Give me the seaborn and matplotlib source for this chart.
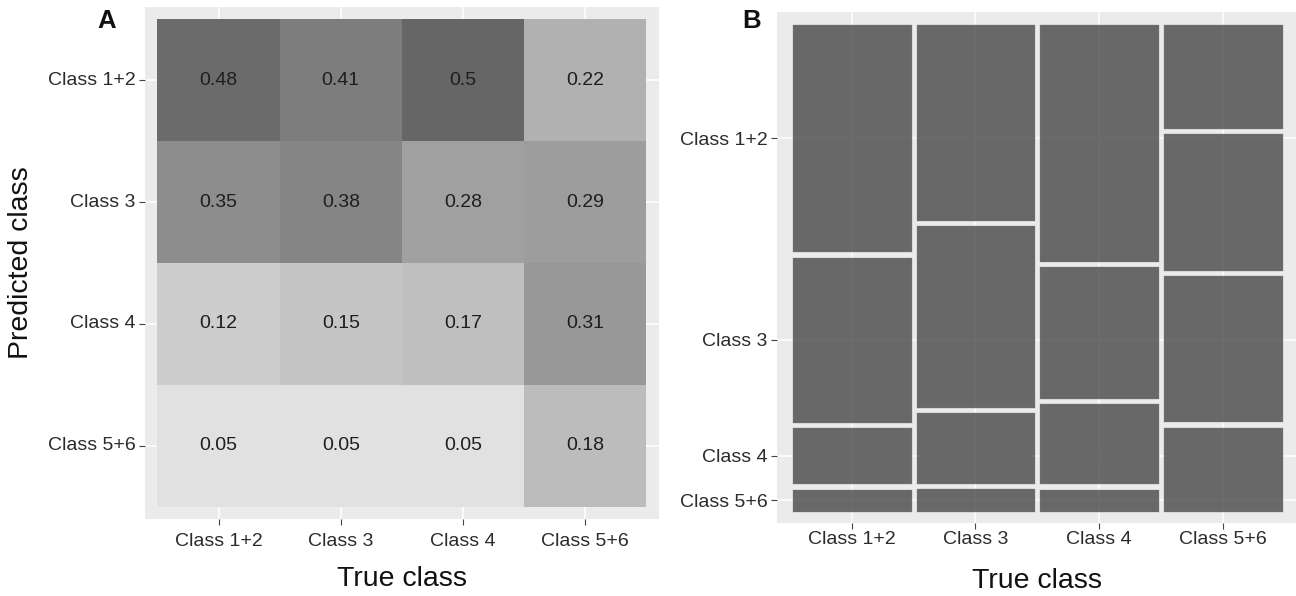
import numpy as np
import pandas as pd
import matplotlib
matplotlib.use("Agg")
import matplotlib.pyplot as plt
from matplotlib.colors import ListedColormap
import seaborn as sns

# ---- data -----------------------------------------------------------------
classes = ["Class 1+2", "Class 3", "Class 4", "Class 5+6"]

# share of each true class (columns) that was predicted as a given class (rows)
pred_class12 = [0.48, 0.41, 0.50, 0.22]
pred_class3 = [0.35, 0.38, 0.28, 0.29]
pred_class4 = [0.12, 0.15, 0.17, 0.31]
pred_class56 = [0.05, 0.05, 0.05, 0.18]

# relative size of each true class (mosaic column widths)
true_class_share = [0.251, 0.248, 0.252, 0.250]

# ---- style ----------------------------------------------------------------
sns.set_style("white")
plt.rcParams["font.family"] = ["Liberation Sans", "DejaVu Sans"]

PANEL_BG = "#ebebeb"
TEXT = "#2b2b2b"
W, H = 1296, 596

fig = plt.figure(figsize=(W / 100, H / 100), dpi=100)


def px_axes(left, top, right, bottom):
    return fig.add_axes([left / W, 1 - bottom / H, (right - left) / W, (bottom - top) / H])


def lstar(g):
    c = g / 255.0
    lin = ((c + 0.055) / 1.055) ** 2.4
    return 116 * lin ** (1 / 3) - 16


def from_lstar(L):
    y = ((L + 16) / 116) ** 3
    return np.clip(1.055 * y ** (1 / 2.4) - 0.055, 0, 1)


# grey gradient interpolated in lightness, light for low values, dark for high
levels = from_lstar(np.linspace(lstar(225), lstar(102), 256))
grey_cmap = ListedColormap(np.column_stack([levels, levels, levels]))


def style_axes(ax, xpad):
    ax.set_facecolor(PANEL_BG)
    ax.set_axisbelow(True)
    ax.grid(True, color="white", linewidth=1.1)
    for s in ax.spines.values():
        s.set_visible(False)
    ax.tick_params(axis="both", length=4, width=0.8, color="#444444",
                   labelsize=14, labelcolor=TEXT, pad=3,
                   bottom=True, left=True)
    ax.tick_params(axis="x", pad=xpad)


# ---- panel A: confusion heatmap -------------------------------------------
conf = pd.DataFrame([pred_class12, pred_class3, pred_class4, pred_class56],
                    index=classes, columns=classes)
labels = conf.map(lambda v: f"{v:g}").values

axA = px_axes(145.2, 7.3, 658.6, 518.7)
sns.heatmap(conf, ax=axA, cmap=grey_cmap, vmin=conf.values.min(),
            vmax=conf.values.max(), cbar=False, annot=labels, fmt="",
            annot_kws=dict(fontsize=14, color="#1e1e1e"))
axA.set_xlim(-0.1, 4.1)
axA.set_ylim(4.1, -0.1)
style_axes(axA, xpad=6)
axA.set_yticklabels(classes, rotation=0)
axA.set_xticklabels(classes, rotation=0)
axA.set_xlabel("True class", fontsize=20.5, color="#111111", labelpad=12)
axA.set_ylabel("Predicted class", fontsize=20.5, color="#111111", labelpad=10)

# ---- panel B: mosaic plot -------------------------------------------------
gap = 0.0087
axB = px_axes(777.3, 11.7, 1297.0, 523.0)

shares = np.array(true_class_share) / np.sum(true_class_share)
widths = shares * (1 - gap * (len(classes) - 1))
lefts = np.concatenate([[0], np.cumsum(widths + gap)[:-1]])

tile_face = (0.279, 0.279, 0.279, 0.8)
tile_edge = (1, 1, 1, 0.55)
first_col_centres = None
for j, true_cls in enumerate(classes):
    col = conf[true_cls].values.astype(float)
    col = col / col.sum()
    heights = col * (1 - gap * (len(classes) - 1))
    # stack from the bottom: last class lowest, first class on top
    bottoms = np.zeros(len(classes))
    acc = 0.0
    for i in range(len(classes) - 1, -1, -1):
        bottoms[i] = acc
        acc += heights[i] + gap
    axB.bar(x=np.full(len(classes), lefts[j]), height=heights, width=widths[j],
            bottom=bottoms, align="edge", color=tile_face,
            edgecolor=tile_edge, linewidth=0.8, zorder=2)
    if j == 0:
        first_col_centres = bottoms + heights / 2

axB.set_xlim(-0.0306, 1.0292)
axB.set_ylim(-0.0219, 1.0252)
style_axes(axB, xpad=2)
axB.set_xticks(lefts + widths / 2)
axB.set_xticklabels(classes)
axB.set_yticks(first_col_centres)
axB.set_yticklabels(classes)
axB.set_xlabel("True class", fontsize=20.5, color="#111111", labelpad=14.5)

# ---- panel tags -----------------------------------------------------------
fig.text(107 / W, 1 - 21 / H, "A", fontsize=18.5, fontweight="bold",
         ha="center", va="center", color="#111111")
fig.text(752 / W, 1 - 21 / H, "B", fontsize=18.5, fontweight="bold",
         ha="center", va="center", color="#111111")

fig.savefig("out.png", dpi=100, facecolor="white")
